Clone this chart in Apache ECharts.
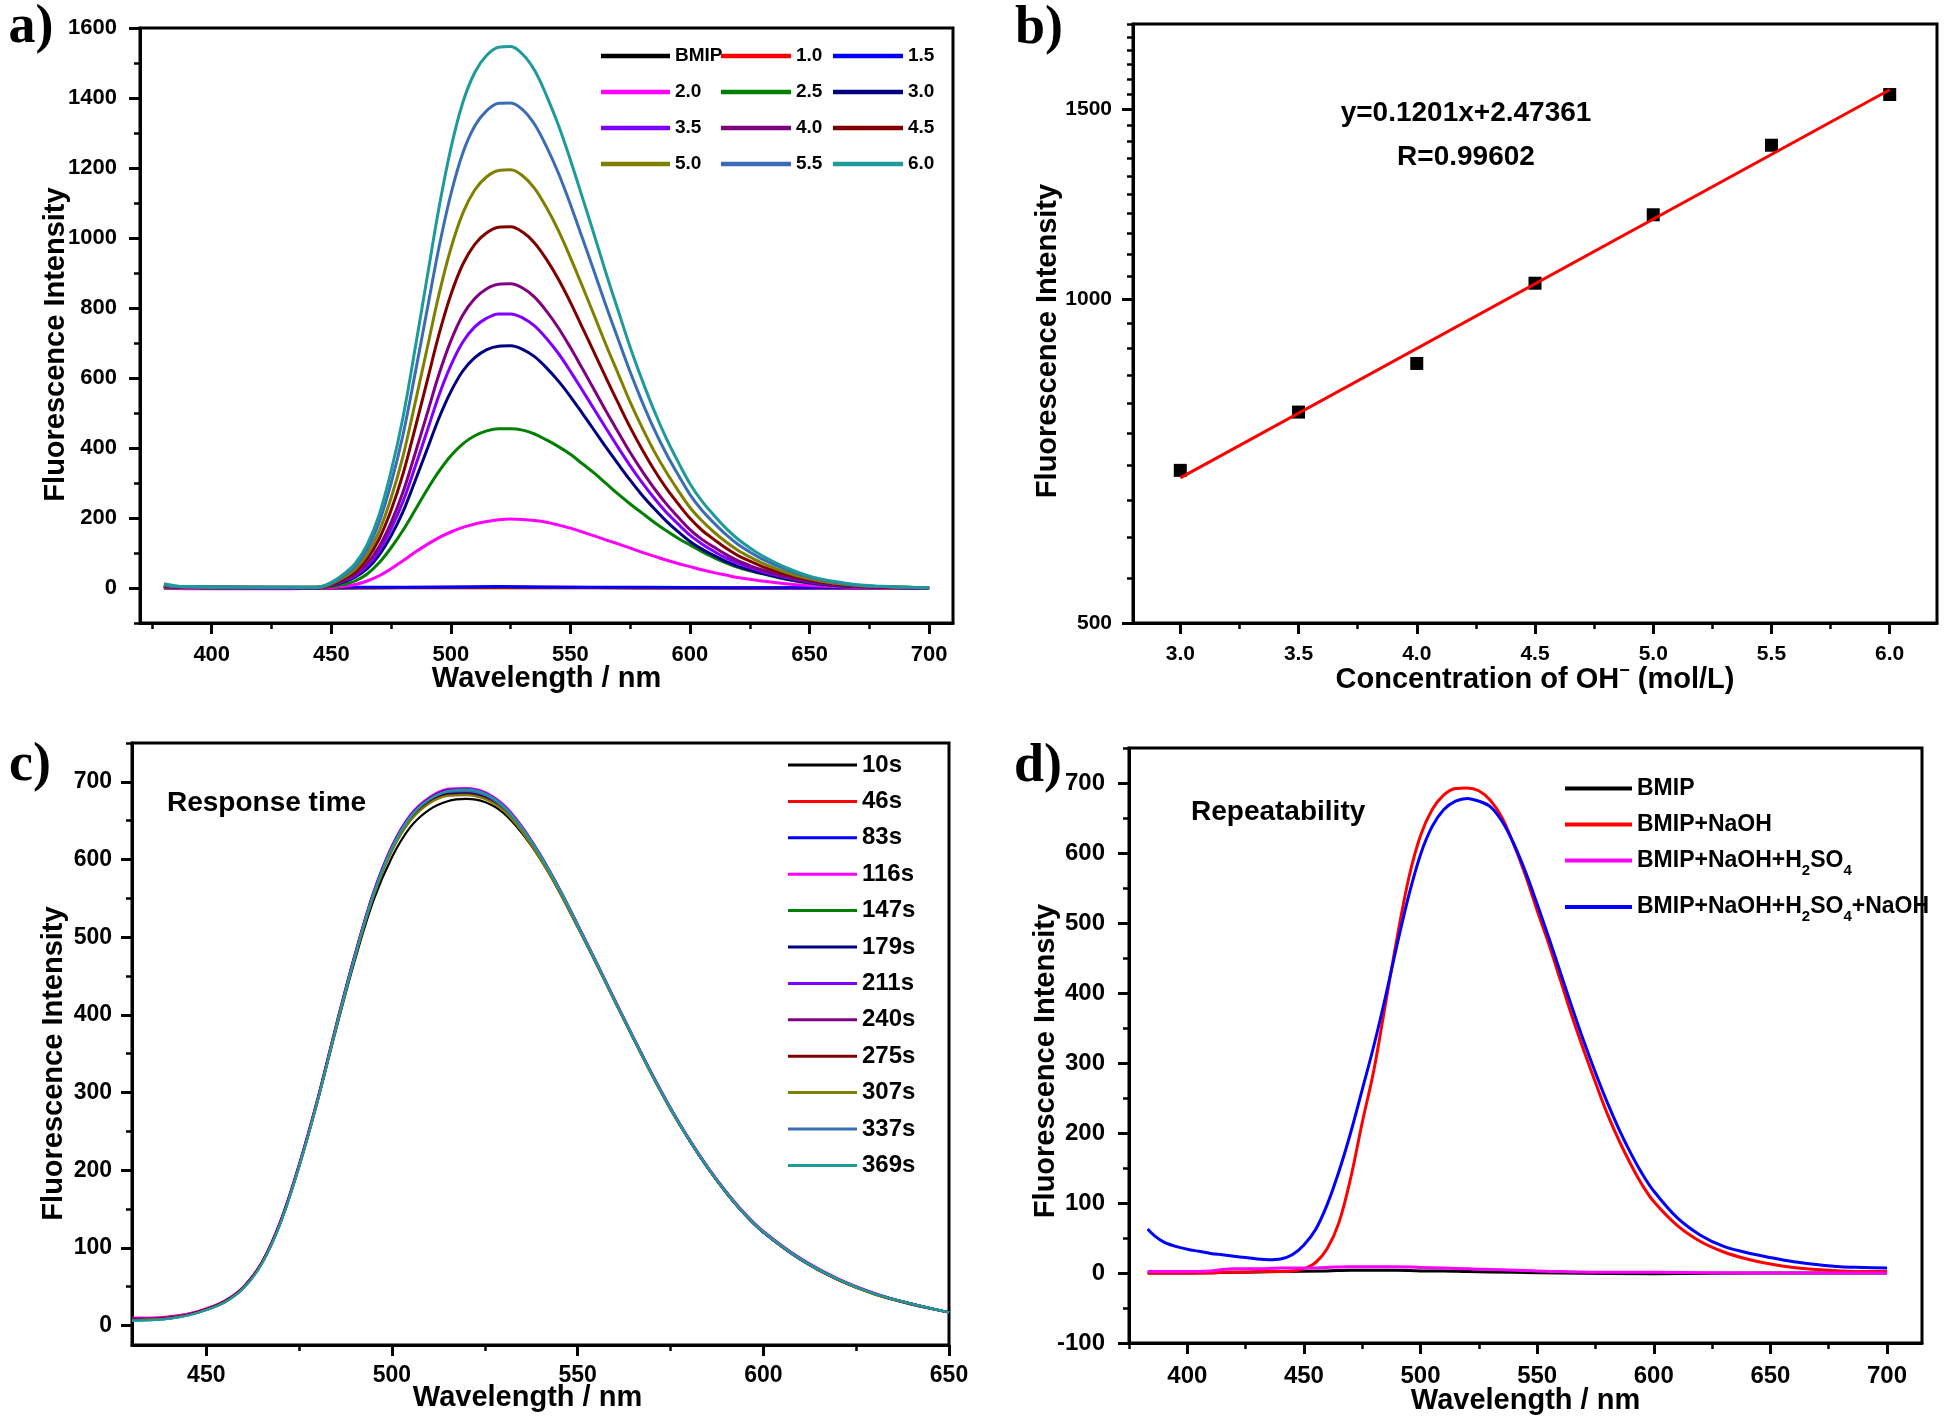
<!DOCTYPE html>
<html><head><meta charset="utf-8">
<script src="https://cdn.jsdelivr.net/npm/echarts@6/dist/echarts.min.js"></script>
<style>html,body{margin:0;padding:0;background:#fff}#c{width:1946px;height:1420px}</style>
</head><body><div id="c"></div>
<script>
// ================= DATA =================
// ---- panel a: emission spectra vs OH- concentration ----
const aWave = [380,385,390,400,410,420,430,440,445,450,455,460,465,470,475,480,485,490,495,500,505,510,515,520,525,530,535,540,545,550,555,560,565,570,575,580,585,590,595,600,605,610,615,620,625,630,640,650,660,670,680,690,700];
const aFlatWave = [380,400,440,460,500,520,540,580,620,660,700];
const aBMIP = [0,-1,-1,0,1,1,1,0,0,0,0];
const a1_0 = [1,0,0,1,2,2,2,1,0,0,0];
const a1_5 = [3,2,1,2,3,4,3,2,1,1,1];
const a2_0 = [0,-1,-2,-2,-2,-2,-2,-1, 0,1,4,10,20,35,55,78,102,124, 144,160,173,183,190,195,197,196,193,188, 180,171,160,149,137,126,114,102,91,80, 70,61,52,44,37,30,25,20, 12,7,4,2,1,1,0];
const a2_5 = [2,1,1,0,0,0,0,0, 1,4,10,20,40,72,115,165,222,280, 333,378,412,435,449,455,455,451,440,423, 404,382,355,328,298,268,240,214,188,164, 142,123,104,87,72,59,49,41, 25,14,7,4,2,1,0];
const a3_0 = [4,3,2,1,1,1,1,1, 1,7,17,31,55,94,149,218,305,395, 485,561,620,658,681,691,692,682,661,629, 591,547,499,450,401,354,308,265,227,192, 161,133,111,93,76,62,51,42, 26,15,8,4,2,1,0];
const a3_5 = [4,3,2,2,2,1,1,1, 2,8,20,35,63,106,169,247,345,447, 550,636,703,746,771,783,783,772,749,713, 670,619,565,510,455,401,349,301,257,217, 183,151,126,105,86,71,58,47, 30,17,9,5,2,1,0];
const a4_0 = [5,3,2,2,2,2,1,1, 2,9,22,39,70,118,187,274,383,496, 610,706,780,827,855,868,869,857,831,791, 743,687,627,566,504,445,387,334,285,241, 203,167,139,117,96,78,64,52, 33,19,10,5,3,1,0];
const a4_5 = [6,4,3,2,2,2,2,2, 2,10,26,47,83,140,222,326,455,589, 724,838,925,982,1015,1031,1032,1017,986,939, 882,816,744,672,599,528,459,396,338,286, 241,199,165,139,114,93,77,62, 39,23,12,6,3,2,1];
const a5_0 = [7,4,3,2,2,2,2,2, 2,12,30,54,96,162,257,377,527,682, 838,970,1071,1137,1175,1193,1195,1178,1142,1087, 1021,944,862,778,693,612,531,458,391,332, 279,230,192,160,132,108,89,72, 45,26,14,7,4,2,1];
const a5_5 = [8,5,3,3,2,2,2,2, 3,14,35,63,111,188,299,438,611,792, 972,1125,1243,1320,1364,1385,1386,1367,1325,1261, 1185,1096,1000,903,804,710,617,532,454,385, 324,267,222,186,153,125,103,83, 53,31,17,8,4,2,1];
const a6_0 = [12,6,4,3,3,2,2,2, 3,16,39,70,124,209,333,488,682,884, 1085,1256,1387,1473,1522,1545,1547,1525,1479,1407, 1322,1223,1116,1008,897,792,688,594,507,429, 361,298,248,208,171,140,115,93, 59,34,19,9,5,2,1];
const aNames = ['BMIP','1.0','1.5','2.0','2.5','3.0','3.5','4.0','4.5','5.0','5.5','6.0'];
const aXMajor = [400,450,500,550,600,650,700];
const aXMinor = [375,425,475,525,575,625,675];
const aYMajor = [0,200,400,600,800,1000,1200,1400,1600];
const aYMinor = [-100,100,300,500,700,900,1100,1300,1500];

// ---- panel b: linear fit ----
const bConc = [3.0,3.5,4.0,4.5,5.0,5.5,6.0];
const bInt = [693,785,871,1034,1197,1389,1548];
const bFitX = [3.0,6.0];
const bFitY = [682,1564];
const bXMajor = [3.0,3.5,4.0,4.5,5.0,5.5,6.0];
const bXMinor = [3.25,3.75,4.25,4.75,5.25,5.75];
const bYMajor = [500,1000,1500];
const bYMinor = [550,600,650,700,750,800,850,900,950,1050,1100,1150,1200,1250,1300,1350,1400,1450,1550,1600,1650,1700,1750,1800];

// ---- panel c: response time ----
const cWave = [430,435,440,445,450,455,460,465,470,475,480,485,490,495,500,505,510,515,520,525,530,535,540,545,550,555,560,565,570,575,580,585,590,595,600,610,620,630,640,650];
const c10  = [8,8,10,14,21,31,49,81,133,205,289,382,470,547,603,642,664,675,678,674,660,634,600,559,513,466,418,370,323,279,239,203,171,143,120,85,59,40,27,17];
const c46  = [10,10,12,15,22,32,50,82,135,208,293,388,478,557,616,656,679,689,690,685,669,641,604,562,515,467,418,370,323,279,239,203,171,143,120,85,60,41,28,17];
const c83  = [9,9,11,14,21,31,49,81,134,206,291,386,476,556,616,656,678,688,690,685,669,641,605,563,516,468,419,371,324,280,240,204,172,144,121,86,60,41,28,17];
const c116 = [10,10,11,15,22,32,50,82,135,208,293,388,478,558,618,658,680,691,692,687,671,643,606,564,517,469,420,372,325,281,241,205,173,145,122,87,61,42,28,17];
const c147 = [8,8,10,14,21,31,49,81,133,206,291,386,476,555,615,654,676,686,687,682,667,639,603,562,515,467,418,370,323,279,239,203,171,143,120,85,60,41,28,17];
const c179 = [8,8,10,14,21,31,49,81,133,205,290,385,475,554,614,653,675,685,686,681,666,639,603,561,515,467,418,370,323,279,239,203,171,143,120,85,59,41,28,17];
const c211 = [9,9,11,14,21,31,49,81,134,207,292,387,477,557,617,657,679,690,691,686,670,642,606,563,516,468,419,371,324,280,240,204,172,144,121,86,60,41,28,17];
const c240 = [9,9,10,14,21,31,49,81,134,206,291,386,476,556,616,656,678,689,690,685,669,641,605,563,516,468,419,371,324,280,240,204,172,144,121,86,60,41,28,17];
const c275 = [8,8,10,14,21,31,49,81,133,205,290,384,474,553,612,651,673,683,684,679,664,637,601,560,514,466,418,370,323,279,239,203,171,143,120,85,59,41,28,17];
const c307 = [7,8,9,13,20,30,48,80,132,204,289,383,473,552,611,650,672,682,683,678,663,636,600,559,513,466,417,369,322,278,239,203,171,143,120,85,59,40,28,17];
const c337 = [7,7,9,13,20,30,48,80,132,205,290,385,475,555,615,655,677,687,688,683,667,640,604,562,515,467,418,370,323,279,239,203,171,143,120,85,60,41,28,17];
const c369 = [6,7,9,13,20,30,48,80,132,205,290,385,475,555,615,655,677,688,690,685,669,641,605,563,516,468,419,371,324,280,240,204,172,144,121,86,60,41,28,17];
const cNames = ['10s','46s','83s','116s','147s','179s','211s','240s','275s','307s','337s','369s'];
const cXMajor = [450,500,550,600,650];
const cXMinor = [475,525,575,625];
const cYMajor = [0,100,200,300,400,500,600,700];
const cYMinor = [50,150,250,350,450,550,650,750];

// ---- panel d: repeatability ----
const dWave = [383,386,390,395,400,405,410,415,420,425,430,435,440,445,450,455,460,465,470,475,480,485,490,495,500,505,510,515,520,525,530,535,540,545,550,555,560,565,570,575,580,585,590,595,600,610,620,630,640,650,660,670,680,690,700];
const dNaOH = [0,0,0,0,0,0,0,1,1,1,2,2,2, 3,6,15,35,72,135,215,290,385,480,565,625,662,683,692,693,689,675,650,612,568,518,470,418,366,318,272,228,190,156,126,102, 68,45,30,20,13,8,5,3,2,2];
const dRe = [63,53,44,38,34,31,28,26,24,22,20,19,20, 26,40,62,98,145,200,262,325,395,470,540,598,638,662,674,678,674,666,645,613,573,527,479,429,379,331,286,244,206,172,142,117, 79,54,38,29,22,16,12,9,8,7];
const dAcidWave = [383,400,410,415,420,430,440,450,460,470,480,490,500,510,520,530,540,550,560,580,600,650,700];
const dAcid = [2,2,3,5,6,6,7,7,8,9,9,9,8,7,6,5,4,3,2,1,1,0,0];
const dBlankWave = [383,400,420,440,460,470,480,490,500,510,520,540,560,600,650,700];
const dBlank = [0,0,1,2,3,4,4,4,3,3,2,1,0,-1,0,0];
const dNames = ['BMIP ','BMIP+NaOH','BMIP+NaOH+H2SO4','BMIP+NaOH+H2SO4+NaOH'];
const dXMajor = [400,450,500,550,600,650,700];
const dXMinor = [375,425,475,525,575,625,675];
const dYMajor = [-100,0,100,200,300,400,500,600,700];
const dYMinor = [-50,50,150,250,350,450,550,650,750];

const palette12 = ['#000000','#ff0000','#0000ff','#ff00ff','#008000','#000080','#8000ff','#800080','#800000','#808000','#3a6db5','#1f9a9a'];

// ================= BUILD =================
const FONT = "'Liberation Sans', Arial, Helvetica, sans-serif";
const SERIF = "'Liberation Serif', 'Times New Roman', serif";
const pairs = (xs, ys) => xs.map((x, i) => [x, ys[i]]);

function axisPair(kind, g, c) {
  const nameStyle = {fontSize: 29, fontWeight: 'bold', fontFamily: FONT, color: '#000', lineHeight: 30, padding: c.namePad || 0};
  if (c.rich) nameStyle.rich = c.rich;
  const main = {
    gridIndex: g, type: c.type || 'value', min: c.min, max: c.max,
    position: kind === 'x' ? 'bottom' : 'left',
    axisLine: {show: true, onZero: false, lineStyle: {color: '#000', width: 3}},
    axisTick: {show: true, inside: false, length: 11, customValues: c.major, lineStyle: {color: '#000', width: 3}},
    axisLabel: {show: true, customValues: c.major, margin: c.margin, formatter: c.fmt,
      color: '#000', fontSize: c.fs, fontWeight: 'bold', fontFamily: FONT},
    splitLine: {show: false}, minorTick: {show: false}, minorSplitLine: {show: false},
    name: c.name, nameLocation: 'middle', nameGap: c.nameGap, nameTextStyle: nameStyle,
    nameMoveOverlap: false, silent: true
  };
  const minor = {
    gridIndex: g, type: c.type || 'value', min: c.min, max: c.max,
    position: kind === 'x' ? 'bottom' : 'left',
    axisLine: {show: false, onZero: false},
    axisTick: {show: true, inside: false, length: 6, customValues: c.minor, lineStyle: {color: '#000', width: 2.5}},
    axisLabel: {show: false}, splitLine: {show: false}, silent: true
  };
  if (c.logBase) { main.logBase = c.logBase; minor.logBase = c.logBase; }
  return [main, minor];
}
const intFmt = v => String(Math.round(v));

const xAxis = [
  ...axisPair('x', 0, {min: 370, max: 710, major: aXMajor, minor: aXMinor, fmt: intFmt, fs: 22, margin: 21, name: 'Wavelength / nm', nameGap: 41}),
  ...axisPair('x', 1, {min: 2.8, max: 6.2, major: bXMajor, minor: bXMinor, fmt: v => v.toFixed(1), fs: 21, margin: 21,
     name: 'Concentration of OH{sup|\u2212} (mol/L)', nameGap: 42,
     rich: {sup: {fontSize: 18, fontWeight: 'bold', fontFamily: FONT, lineHeight: 18, padding: [0, 0, 18, 0]}}}),
  ...axisPair('x', 2, {min: 430, max: 650, major: cXMajor, minor: cXMinor, fmt: intFmt, fs: 23, margin: 19, name: 'Wavelength / nm', nameGap: 38, namePad: [0, 26, 0, 0]}),
  ...axisPair('x', 3, {min: 375, max: 715, major: dXMajor, minor: dXMinor, fmt: intFmt, fs: 24, margin: 21, name: 'Wavelength / nm', nameGap: 43})
];
const yAxis = [
  ...axisPair('y', 0, {min: -100, max: 1600, major: aYMajor, minor: aYMinor, fmt: intFmt, fs: 22, margin: 23, name: 'Fluorescence Intensity', nameGap: 69, namePad: [0, 38, 0, 0]}),
  ...axisPair('y', 1, {type: 'log', logBase: 10, min: 500, max: 1800, major: bYMajor, minor: bYMinor, fmt: intFmt, fs: 21, margin: 21, name: 'Fluorescence Intensity', nameGap: 70, namePad: [0, 35, 0, 0]}),
  ...axisPair('y', 2, {min: -25, max: 750, major: cYMajor, minor: cYMinor, fmt: intFmt, fs: 23, margin: 20, name: 'Fluorescence Intensity', nameGap: 63, namePad: [0, 39, 0, 0]}),
  ...axisPair('y', 3, {min: -100, max: 750, major: dYMajor, minor: dYMinor, fmt: intFmt, fs: 24, margin: 24, name: 'Fluorescence Intensity', nameGap: 68, namePad: [0, 31, 0, 0]})
];

const gridBase = {show: true, borderColor: '#000', borderWidth: 3, backgroundColor: 'transparent', containLabel: false, outerBoundsMode: 'none'};
const grid = [
  Object.assign({left: 140, top: 28, width: 813, height: 595}, gridBase),
  Object.assign({left: 1133, top: 24, width: 804, height: 599}, gridBase),
  Object.assign({left: 132, top: 743, width: 817, height: 602}, gridBase),
  Object.assign({left: 1129, top: 748, width: 793, height: 595}, gridBase)
];

function line(name, g, xs, ys, color, width) {
  return {type: 'line', name, xAxisIndex: 2 * g, yAxisIndex: 2 * g, data: pairs(xs, ys),
    color, showSymbol: false, symbol: 'none', smooth: 0.35,
    lineStyle: {color, width, join: 'round'}, itemStyle: {color}, silent: true, emphasis: {disabled: true}, animation: false};
}

const aData = [aBMIP, a1_0, a1_5, a2_0, a2_5, a3_0, a3_5, a4_0, a4_5, a5_0, a5_5, a6_0];
const cData = [c10, c46, c83, c116, c147, c179, c211, c240, c275, c307, c337, c369];
const series = [];
aNames.forEach((n, i) => series.push(line(n, 0, i < 3 ? aFlatWave : aWave, aData[i], palette12[i], 3)));
series.push({type: 'line', name: 'fit', xAxisIndex: 2, yAxisIndex: 2, data: pairs(bFitX, bFitY), showSymbol: false, symbol: 'none',
  color: '#ff0000', lineStyle: {color: '#ff0000', width: 3}, silent: true, animation: false});
series.push({type: 'scatter', name: 'points', xAxisIndex: 2, yAxisIndex: 2, data: pairs(bConc, bInt), symbol: 'rect', symbolSize: 13,
  itemStyle: {color: '#000', opacity: 1}, silent: true, animation: false});
cNames.forEach((n, i) => series.push(line(n, 2, cWave, cData[i], palette12[i], 2.2)));
series.push(line(dNames[0], 3, dBlankWave, dBlank, '#000000', 3));
series.push(line(dNames[1], 3, dWave, dNaOH, '#ff0000', 3));
series.push(line(dNames[2], 3, dAcidWave, dAcid, '#ff00ff', 3));
series.push(line(dNames[3], 3, dWave, dRe, '#0000ff', 3));

function legendCol(names, left, top, o) {
  return {data: names, orient: 'vertical', left, top, padding: 0, selectedMode: false, icon: 'rect',
    itemWidth: o.w, itemHeight: o.h, itemGap: o.gap, itemStyle: {borderWidth: 0},
    textStyle: Object.assign({fontSize: o.fs, fontWeight: 'bold', fontFamily: FONT, color: '#000', lineHeight: o.lh}, o.rich ? {rich: o.rich} : {}),
    formatter: o.fmt};
}
const subRich = {sub: {fontSize: 15, fontWeight: 'bold', fontFamily: FONT, lineHeight: 15, padding: [20, 0, 0, 0]}};
const subFmt = n => n.replace('H2SO4', 'H{sub|2}SO{sub|4}');
const legend = [
  legendCol(['BMIP','2.0','3.5','5.0'], 601, 45, {w: 69, h: 4.5, gap: 14, fs: 19, lh: 22}),
  legendCol(['1.0','2.5','4.0','5.5'], 721, 45, {w: 70, h: 4.5, gap: 14, fs: 19, lh: 22}),
  legendCol(['1.5','3.0','4.5','6.0'], 833, 45, {w: 70, h: 4.5, gap: 14, fs: 19, lh: 22}),
  legendCol(cNames, 788, 753, {w: 69, h: 3, gap: 12.4, fs: 24, lh: 24}),
  legendCol([dNames[0]], 1565, 777, {w: 67, h: 4, gap: 10, fs: 23, lh: 22}),
  legendCol([dNames[1]], 1565, 813, {w: 67, h: 4, gap: 10, fs: 23, lh: 22}),
  legendCol([dNames[2]], 1565, 843, {w: 67, h: 4, gap: 10, fs: 23, lh: 22, rich: subRich, fmt: subFmt}),
  legendCol([dNames[3]], 1565, 889.5, {w: 67, h: 4, gap: 10, fs: 23, lh: 22, rich: subRich, fmt: subFmt})
];

const txt = (x, y, text, size, family, align) => ({type: 'text', x, y, silent: true,
  style: {text, fontSize: size, fontWeight: 'bold', fontFamily: family, fill: '#000', align: align || 'center', verticalAlign: 'middle'}});
const graphic = {elements: [
  txt(31, 28, 'a)', 54, SERIF), txt(1039, 29, 'b)', 54, SERIF),
  txt(30, 766, 'c)', 54, SERIF), txt(1038, 767, 'd)', 54, SERIF),
  txt(1466, 113, 'y=0.1201x+2.47361', 28, FONT), txt(1466, 157, 'R=0.99602', 28, FONT),
  txt(167, 803, 'Response time', 28, FONT, 'left'), txt(1191, 812, 'Repeatability', 28, FONT, 'left')
]};

const chart = echarts.init(document.getElementById('c'), null, {renderer: 'canvas', width: 1946, height: 1420});
chart.setOption({backgroundColor: '#ffffff', animation: false, grid, xAxis, yAxis, series, legend, graphic, tooltip: {show: false}});
</script></body></html>
